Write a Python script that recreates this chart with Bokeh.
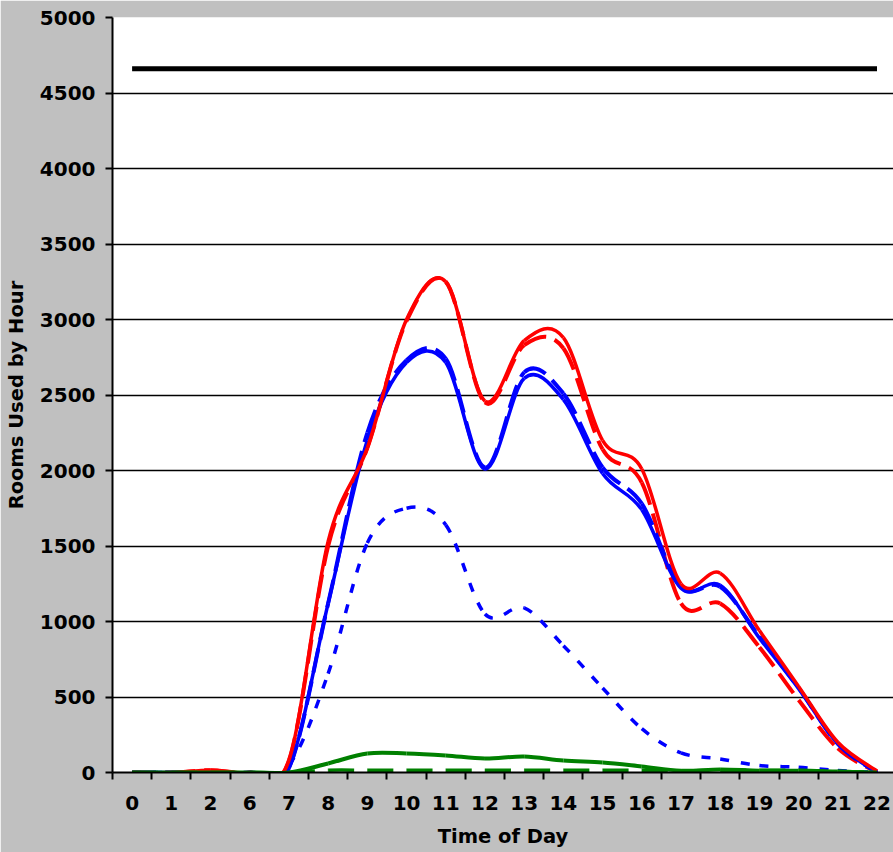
from bokeh.plotting import figure
from bokeh.models import FixedTicker, Range1d
from bokeh.embed import file_html
from bokeh.resources import INLINE

# ---- data ----
hour_labels = ["0", "1", "2", "6", "7", "8", "9", "10", "11", "12", "13",
               "14", "15", "16", "17", "18", "19", "20", "21", "22"]
capacity = [4660, 4660, 4660, 4660, 4660, 4660, 4660, 4660, 4660, 4660,
            4660, 4660, 4660, 4660, 4660, 4660, 4660, 4660, 4660, 4660]
red_solid = [0, 0, 15, 0, 80, 1530, 2150, 3000, 3250, 2460, 2860, 2880,
             2200, 2010, 1250, 1320, 940, 570, 200, 10]
red_dashed = [0, 0, 15, 0, 80, 1500, 2150, 2990, 3250, 2450, 2830, 2810,
              2140, 1920, 1120, 1120, 830, 480, 160, 0]
blue_solid = [0, 0, 0, 0, 30, 1120, 2200, 2715, 2715, 2010, 2610, 2470,
              1980, 1740, 1220, 1240, 890, 555, 190, 0]
blue_dashed = [0, 0, 0, 0, 30, 1120, 2250, 2730, 2740, 2020, 2650, 2510,
               2020, 1780, 1230, 1230, 900, 560, 190, 0]
blue_dotted = [0, 0, 0, 0, 50, 655, 1520, 1750, 1640, 1050, 1090, 840,
               560, 290, 130, 90, 46, 35, 13, 0]
green_solid = [0, 0, 0, 0, 0, 60, 126, 126, 113, 92, 106, 79,
               66, 40, 12, 20, 12, 12, 6, 0]
green_dashed = [0, 0, 0, 0, 0, 15, 15, 15, 15, 15, 15, 15,
                15, 15, 10, 15, 15, 15, 8, 0]

y_ticks = [0, 500, 1000, 1500, 2000, 2500, 3000, 3500, 4000, 4500, 5000]

FONT = "DejaVu Sans"

p = figure(width=893, height=852, output_backend="svg", toolbar_location=None,
           x_range=Range1d(-0.5, 19.42), y_range=Range1d(0, 5000),
           min_border_left=112, min_border_right=0, min_border_top=17,
           min_border_bottom=80)
p.border_fill_color = "#c0c0c0"
p.background_fill_color = "white"
p.outline_line_color = None

xs = list(range(len(hour_labels)))


def smooth(series, color, width, dash="solid"):
    n = len(series)
    x0, y0, x1, y1, cx0, cy0, cx1, cy1 = [], [], [], [], [], [], [], []
    for i in range(n - 1):
        ip = max(i - 1, 0)
        inn = min(i + 2, n - 1)
        x0.append(xs[i]); y0.append(series[i])
        x1.append(xs[i + 1]); y1.append(series[i + 1])
        cx0.append(xs[i] + (xs[i + 1] - xs[ip]) / 6.0)
        cy0.append(series[i] + (series[i + 1] - series[ip]) / 6.0)
        cx1.append(xs[i + 1] - (xs[inn] - xs[i]) / 6.0)
        cy1.append(series[i + 1] - (series[inn] - series[i]) / 6.0)
    p.bezier(x0=x0, y0=y0, x1=x1, y1=y1, cx0=cx0, cy0=cy0, cx1=cx1, cy1=cy1,
             line_color=color, line_width=width, line_dash=dash,
             line_cap="butt", line_join="round")


p.line(xs, capacity, line_color="black", line_width=5)
smooth(blue_dotted, "#0000ff", 3.5, "9 12")
smooth(red_dashed, "#ff0000", 4, "24 9")
smooth(blue_dashed, "#0000ff", 4, "24 9")
smooth(blue_solid, "#0000ff", 3.5)
smooth(red_solid, "#ff0000", 3.5)
smooth(green_dashed, "#008000", 3.5, "26 13")
smooth(green_solid, "#008000", 4)

# grid
p.xgrid.visible = False
p.ygrid.ticker = FixedTicker(ticks=y_ticks)
p.ygrid.grid_line_color = "black"
p.ygrid.grid_line_width = 1.5

# y axis
ya = p.yaxis[0]
ya.ticker = FixedTicker(ticks=y_ticks)
ya.axis_line_color = "black"
ya.axis_line_width = 2
ya.major_tick_line_color = "black"
ya.major_tick_line_width = 2
ya.major_tick_in = 0
ya.major_tick_out = 7
ya.minor_tick_line_color = None
ya.major_label_text_font = FONT
ya.major_label_text_font_style = "bold"
ya.major_label_text_font_size = "20px"
ya.major_label_text_color = "black"
ya.major_label_standoff = 10
ya.axis_label = "Rooms Used by Hour"
ya.axis_label_text_font = FONT
ya.axis_label_text_font_style = "bold"
ya.axis_label_text_font_size = "19.5px"
ya.axis_label_text_color = "black"
ya.axis_label_standoff = 9

# x axis
xa = p.xaxis[0]
xa.ticker = FixedTicker(ticks=xs, minor_ticks=[i - 0.5 for i in range(len(xs) + 1)])
xa.major_label_overrides = {i: lab for i, lab in enumerate(hour_labels)}
xa.axis_line_color = "black"
xa.axis_line_width = 2
xa.major_tick_line_color = None
xa.major_tick_in = 0
xa.major_tick_out = 7
xa.minor_tick_line_color = "black"
xa.minor_tick_line_width = 2
xa.minor_tick_in = 0
xa.minor_tick_out = 7
xa.major_label_text_font = FONT
xa.major_label_text_font_style = "bold"
xa.major_label_text_font_size = "20px"
xa.major_label_text_color = "black"
xa.major_label_standoff = 16
xa.axis_label = "Time of Day"
xa.axis_label_text_font = FONT
xa.axis_label_text_font_style = "bold"
xa.axis_label_text_font_size = "19.5px"
xa.axis_label_text_color = "black"
xa.axis_label_standoff = 12

open("out.html", "w").write(file_html(p, INLINE))
